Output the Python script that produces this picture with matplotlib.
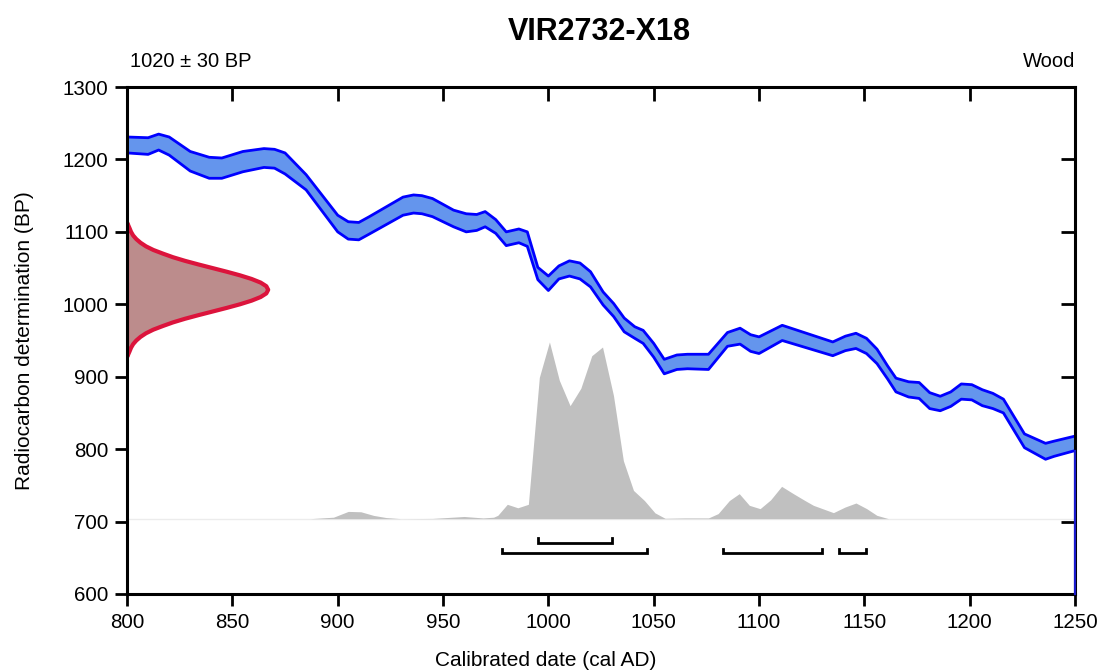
import matplotlib.pyplot as plt
import numpy as np

plt.rcParams['font.family'] = ['Liberation Sans', 'DejaVu Sans']

# calibration curve (IntCal band)
cal_years = [800, 810, 815, 820, 830, 839, 845, 855, 865, 870, 875, 885, 900, 905, 910,
             915, 931, 936, 940, 945, 955, 961, 966, 970, 975, 980, 986, 990, 995, 1000,
             1005, 1010, 1015, 1020, 1026, 1031, 1036, 1041, 1045, 1050, 1055, 1061, 1066,
             1076, 1085, 1091, 1096, 1100, 1111, 1135, 1141, 1146, 1151, 1156, 1161, 1165,
             1171, 1176, 1181, 1186, 1191, 1196, 1201, 1206, 1211, 1216, 1226, 1236, 1240, 1250]
cal_upper = [1231, 1230, 1235, 1231, 1211, 1203, 1202, 1211, 1215, 1214, 1209, 1179, 1123, 1114, 1113,
             1121, 1148, 1151, 1150, 1146, 1130, 1125, 1124, 1128, 1117, 1100, 1104, 1100, 1051, 1039,
             1053, 1060, 1057, 1045, 1017, 1001, 981, 969, 964, 946, 924, 930, 931,
             931, 961, 967, 958, 955, 971, 948, 956, 960, 953, 938, 915, 898,
             893, 892, 878, 873, 879, 890, 889, 882, 877, 869, 821, 808, 811, 818]
cal_lower = [1209, 1207, 1213, 1206, 1184, 1174, 1174, 1183, 1189, 1188, 1180, 1158, 1100, 1090, 1089,
             1097, 1123, 1126, 1125, 1121, 1107, 1100, 1102, 1107, 1098, 1081, 1085, 1080, 1034, 1019,
             1035, 1039, 1035, 1024, 999, 983, 962, 953, 946, 927, 904, 910, 911,
             910, 942, 945, 935, 932, 950, 929, 936, 939, 932, 918, 897, 879,
             872, 870, 856, 853, 859, 869, 868, 860, 856, 850, 802, 786, 790, 798]

# measured radiocarbon date (red curve), widths in years from the axis
bp_levels = [1113, 1105, 1100, 1095, 1090, 1085, 1080, 1075, 1070, 1065, 1060, 1055, 1050,
             1045, 1040, 1035, 1030, 1025, 1020, 1015, 1010, 1005, 1000, 995, 990, 985,
             980, 975, 970, 965, 960, 955, 950, 945, 940, 935, 927]
bp_widths = [0, 1.2, 1.9, 2.9, 4.4, 6.4, 9, 12.5, 17, 21.8, 27.5, 33.9, 40.6,
             47.3, 53.6, 59.1, 63.4, 66.1, 67, 66.1, 63.4, 59.1, 53.6, 47.3, 40.6, 33.9,
             27.5, 21.8, 17, 12.5, 9, 6.4, 4.4, 2.9, 1.9, 1.2, 0]

# calibrated date distribution (grey), heights above the base line
post_years = [887, 898, 905, 911, 917, 923, 930, 945, 960, 969, 974, 976, 980.5, 985.5,
              990.5, 995.7, 1000.5, 1005.2, 1010.3, 1015.4, 1020.6, 1025.7, 1030.9, 1035.6,
              1040.4, 1045.6, 1050.6, 1055.4, 1065, 1076, 1080.6, 1085.9, 1090.6, 1095.4,
              1100.5, 1105.5, 1110.7, 1116.3, 1121.8, 1125.8, 1135.3, 1140.8, 1146, 1151.1,
              1155.9, 1161.4, 1170]
post_height = [0, 2, 10, 9.5, 4.5, 1.5, 0, 0.3, 3, 1, 2, 4.6, 19.8, 15,
               19.8, 195, 244, 191, 156, 180, 225, 237, 170, 80,
               39, 25, 8, 0.5, 1, 1, 7, 25, 34.5, 18.4,
               13.8, 26, 44.6, 34.5, 25, 18.4, 8.3, 16, 21.6, 13.8,
               4.6, 0, 0]
post_base = 704

# highest posterior density ranges
range_68 = [(995, 1030)]
range_95 = [(978, 1047), (1083, 1130), (1138, 1151)]

fig = plt.figure(figsize=(10.98, 6.71), dpi=100)
ax = fig.add_axes([0.1157, 0.1148, 0.8634, 0.7555])

# calibration band
ax.fill_between(cal_years, cal_lower, cal_upper, color='#6495ED', lw=0, zorder=3)
ax.plot(cal_years, cal_upper, color='#0000FF', lw=2, zorder=4)
ax.plot(cal_years, cal_lower, color='#0000FF', lw=2, zorder=4)
ax.plot([1250, 1250], [cal_lower[-1], 600], color='#1a1acc', lw=1.6, zorder=6, clip_on=False)

# measured date on the y axis
red_x = [800 + w for w in bp_widths] + [800]
red_y = bp_levels + [bp_levels[0]]
ax.fill(red_x, red_y, facecolor='#BC8C8C', edgecolor='#DC143C', lw=3, zorder=3,
        joinstyle='round')

# calibrated distribution
ax.axhline(post_base, color='#ececec', lw=1, zorder=1)
ax.fill_between(post_years, post_base, np.array(post_height) + post_base,
                color='#C0C0C0', lw=0, zorder=2)

# range brackets
def bracket(x0, x1, y):
    ax.plot([x0, x0, x1, x1], [y + 6, y, y, y + 6], color='black', lw=2,
            solid_joinstyle='miter', zorder=5)

for x0, x1 in range_68:
    bracket(x0, x1, 671)
for x0, x1 in range_95:
    bracket(x0, x1, 656)

ax.set_xlim(800, 1250)
ax.set_ylim(600, 1300)
ax.set_xticks(np.arange(800, 1251, 50))
ax.set_yticks(np.arange(600, 1301, 100))
ax.tick_params(direction='out', length=8.5, width=2, labelsize=14.8, pad=5)
for s in ax.spines.values():
    s.set_linewidth(2.2)
    s.set_zorder(5)

top = ax.secondary_xaxis('top')
top.set_xticks(np.arange(800, 1251, 50))
top.tick_params(direction='in', length=10, width=2, labeltop=False)
right = ax.secondary_yaxis('right')
right.set_yticks(np.arange(600, 1301, 100))
right.tick_params(direction='in', length=10, width=2, labelright=False)

ax.set_xlabel('Calibrated date (cal AD)', fontsize=15)
ax.xaxis.set_label_coords(0.442, -0.112)
ax.set_ylabel('Radiocarbon determination (BP)', fontsize=15)
ax.yaxis.set_label_coords(-0.098, 0.5)

fig.text(0.546, 0.953, 'VIR2732-X18', fontsize=22, fontweight='bold', ha='center', va='center')
fig.text(0.1185, 0.908, '1020 ± 30 BP', fontsize=14.5, ha='left', va='center')
fig.text(0.979, 0.908, 'Wood', fontsize=14.5, ha='right', va='center')

fig.savefig('out.png', dpi=100)
